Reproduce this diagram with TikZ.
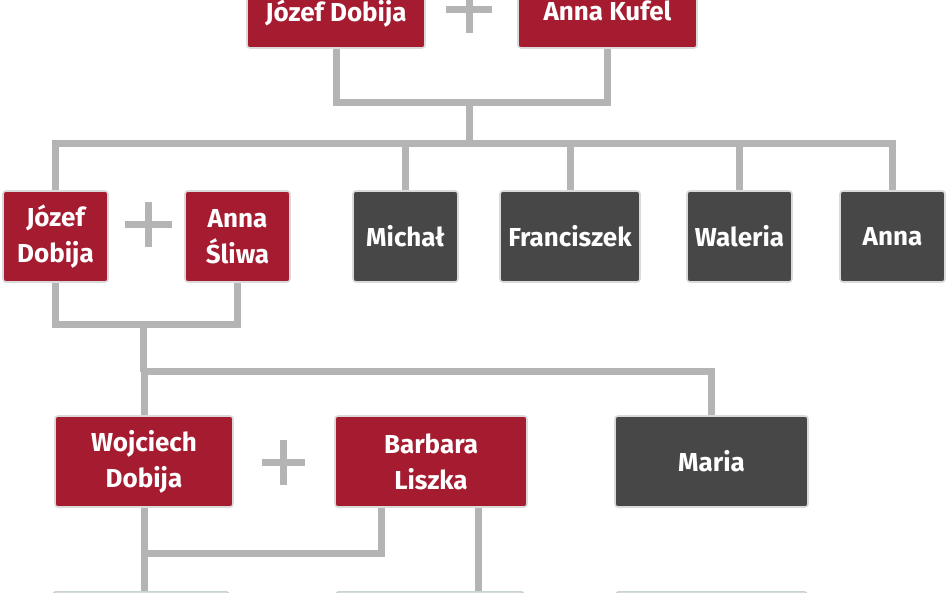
\documentclass[tikz,border=0pt]{standalone}
\usepackage{fontspec}
\setmainfont{Fira Sans}
\usetikzlibrary{backgrounds}
\definecolor{famred}{HTML}{A51C30}
\definecolor{famgrey}{HTML}{474747}
\definecolor{boxedge}{HTML}{DADADA}
\definecolor{lineg}{HTML}{B4B4B4}
\definecolor{pale}{HTML}{EEF2F1}
\definecolor{paleedge}{HTML}{C9D3D2}
\begin{document}
\begin{tikzpicture}[x=1pt,y=-1pt,
  box/.style={rounded corners=3pt, draw=boxedge, line width=1.6pt, text=white,
    font=\fontsize{26}{36}\selectfont\bfseries, align=center, inner sep=0pt,
    minimum height=91pt},
  redbox/.style={box, fill=famred},
  greybox/.style={box, fill=famgrey},
  palebox/.style={box, fill=pale, draw=paleedge, minimum height=91pt},
  conn/.style={draw=lineg, line width=7pt},
  plussign/.style={draw=lineg, line width=7pt}]
\useasboundingbox (0,0) rectangle (948,593);
\clip (0,0) rectangle (948,593);

% generation 1
\node[redbox, minimum width=178pt, minimum height=78pt, text depth=0pt] (J1) at (336,9) {\raisebox{-3pt}{Józef Dobija}};
\node[redbox, minimum width=179pt, minimum height=78pt, text depth=0pt] (A1) at (607.5,9) {\raisebox{-3pt}{Anna Kufel}};
\draw[plussign] (446,10) -- (492,10) (469,-13) -- (469,33);

% generation 2
\node[redbox, minimum width=105pt] (J2) at (55.5,236.5) {Józef\\Dobija};
\node[redbox, minimum width=105pt] (A2) at (237.5,236.5) {Anna\\Śliwa};
\node[greybox, minimum width=105pt] (M2) at (405.5,236.5) {Michał};
\node[greybox, minimum width=140pt] (F2) at (570,236.5) {Franciszek};
\node[greybox, minimum width=105pt] (W2) at (739.5,236.5) {Waleria};
\node[greybox, minimum width=105pt] (N2) at (892.5,236.5) {Anna};
\draw[plussign] (125,225) -- (172,225) (148.5,202) -- (148.5,247);

% generation 3
\node[redbox, minimum width=178pt] (W3) at (144,461.5) {Wojciech\\Dobija};
\node[redbox, minimum width=192pt] (B3) at (431,461.5) {Barbara\\Liszka};
\node[greybox, minimum width=193pt] (M3) at (711.5,461.5) {Maria};
\draw[plussign] (262,462) -- (305,462) (283.5,440) -- (283.5,485);

% generation 4 (cut off)
\node[palebox, minimum width=176pt, anchor=north] (R1) at (141,591) {};
\node[palebox, minimum width=188pt, anchor=north] (R2) at (430,591) {};
\node[palebox, minimum width=191pt, anchor=north] (R3) at (711.5,591) {};

\begin{scope}[on background layer]
  \coordinate (m1) at (469,103);
  \coordinate (bar1) at (469,144);
  \draw[conn] (J1.south) |- (m1) -| (A1.south);
  \draw[conn] (m1) -- (bar1);
  \draw[conn] (J2.north) |- (bar1) -| (N2.north);
  \draw[conn] (M2.north) -- (M2.north |- bar1);
  \draw[conn] (F2.north) -- (F2.north |- bar1);
  \draw[conn] (W2.north) -- (W2.north |- bar1);

  \coordinate (m2) at (143,325);
  \coordinate (bar2) at (143,372);
  \draw[conn] (J2.south) |- (m2) -| (A2.south);
  \draw[conn] (m2) -- (bar2);
  \draw[conn] (W3.north) |- (bar2) -| (M3.north);

  \coordinate (m3) at (144,553);
  \coordinate (bl) at ([xshift=-50pt]B3.south);
  \coordinate (br) at ([xshift=47pt]B3.south);
  \draw[conn] (W3.south) -- (R1.north -| W3.south);
  \draw[conn] (bl) |- (m3);
  \draw[conn] (br) -- (R2.north -| br);
\end{scope}
\end{tikzpicture}
\end{document}
